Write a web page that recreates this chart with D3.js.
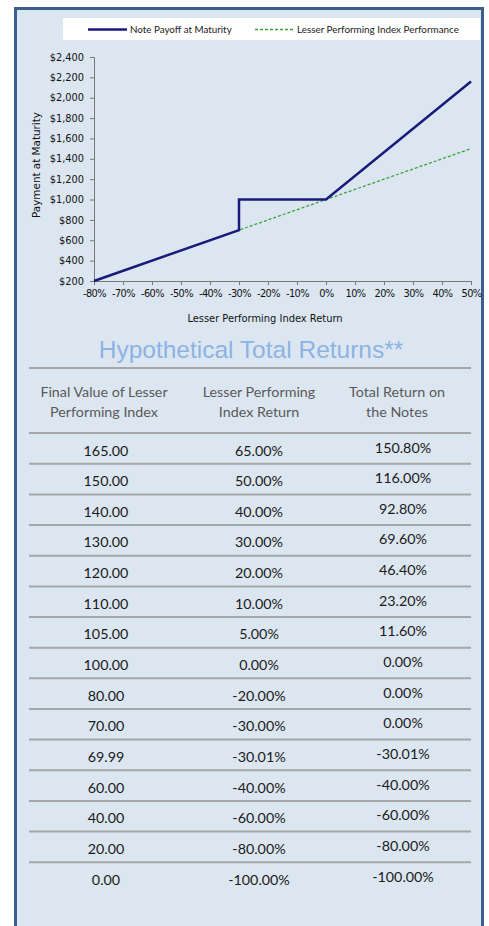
<!DOCTYPE html>
<html><head><meta charset="utf-8">
<script src="https://cdn.jsdelivr.net/npm/d3@7"></script>
<style>
html,body{margin:0;padding:0;background:#fff;}
svg{display:block;}
</style></head>
<body>
<script>
// ---- data ----
const payoffReturns = [-80, -30, -30, 0, 50];
const payoffValues  = [200, 700, 1000, 1000, 2160];
const indexReturns  = [-80, 50];
const indexValues   = [200, 1500];
const xTicks = [-80,-70,-60,-50,-40,-30,-20,-10,0,10,20,30,40,50];
const yTicks = [200,400,600,800,1000,1200,1400,1600,1800,2000,2200,2400];
const seriesNames = ["Note Payoff at Maturity", "Lesser Performing Index Performance"];
const tableTitle = "Hypothetical Total Returns**";
const headers = [["Final Value of Lesser","Performing Index"],["Lesser Performing","Index Return"],["Total Return on","the Notes"]];
const finalValues = ["165.00","150.00","140.00","130.00","120.00","110.00","105.00","100.00","80.00","70.00","69.99","60.00","40.00","20.00","0.00"];
const indexReturnLabels = ["65.00%","50.00%","40.00%","30.00%","20.00%","10.00%","5.00%","0.00%","-20.00%","-30.00%","-30.01%","-40.00%","-60.00%","-80.00%","-100.00%"];
const noteReturnLabels = ["150.80%","116.00%","92.80%","69.60%","46.40%","23.20%","11.60%","0.00%","0.00%","0.00%","-30.01%","-40.00%","-60.00%","-80.00%","-100.00%"];

const W = 489, H = 926;
const svg = d3.select("body").append("svg").attr("width", W).attr("height", H);

// panel
svg.append("rect").attr("x",15.5).attr("y",8.5).attr("width",467).attr("height",H)
  .attr("fill","#dce6f1").attr("stroke","#3a5f8c").attr("stroke-width",3);

// legend box
svg.append("rect").attr("x",63).attr("y",18).attr("width",417).attr("height",22).attr("fill","#fff");
const legFont = "Lato, 'Open Sans', sans-serif";
svg.append("line").attr("x1",88).attr("x2",127).attr("y1",29.5).attr("y2",29.5)
  .attr("stroke","#1a1a7a").attr("stroke-width",2.5);
svg.append("text").attr("x",130).attr("y",32.8).text(seriesNames[0])
  .attr("font-family",legFont).attr("font-size",9.8).attr("fill","#222");
svg.append("line").attr("x1",255).attr("x2",293).attr("y1",29.5).attr("y2",29.5)
  .attr("stroke","#3ea03e").attr("stroke-width",1.3).attr("stroke-dasharray","3,2");
svg.append("text").attr("x",297).attr("y",32.8).text(seriesNames[1])
  .attr("font-family",legFont).attr("font-size",9.9).attr("fill","#222");

// scales
const x = d3.scaleLinear().domain([-80,50]).range([94,471]);
const y = d3.scaleLinear().domain([200,2400]).range([281,57]);

const gy = svg.append("g").attr("transform","translate(94,0)")
  .call(d3.axisLeft(y).tickValues(yTicks).tickSize(4).tickPadding(6).tickFormat(d=>"$"+d3.format(",")(d)));
const gx = svg.append("g").attr("transform","translate(0,281)")
  .call(d3.axisBottom(x).tickValues(xTicks).tickSize(4).tickPadding(5).tickFormat(d=>d+"%"));
[gy,gx].forEach(g=>{
  g.selectAll("path,line").attr("stroke","#777").attr("stroke-width",1);
  g.selectAll("text").attr("font-family","'DejaVu Sans', sans-serif").attr("font-size",9.8).attr("fill","#111");
});
gx.selectAll("text").attr("letter-spacing",-0.6);

svg.append("text").attr("x",265).attr("y",322).attr("text-anchor","middle")
  .text("Lesser Performing Index Return").attr("font-family","'DejaVu Sans', sans-serif").attr("font-size",9.9).attr("fill","#111");
svg.append("text").attr("transform","translate(40,165) rotate(-90)").attr("text-anchor","middle")
  .text("Payment at Maturity").attr("font-family","'DejaVu Sans', sans-serif").attr("font-size",10.4).attr("fill","#111");

const line = d3.line().x(d=>x(d[0])).y(d=>y(d[1]));
svg.append("path").datum(indexReturns.map((r,i)=>[r,indexValues[i]]))
  .attr("d",line).attr("fill","none").attr("stroke","#3ea03e").attr("stroke-width",1.3).attr("stroke-dasharray","3,2");
svg.append("path").datum(payoffReturns.map((r,i)=>[r,payoffValues[i]]))
  .attr("d",line).attr("fill","none").attr("stroke","#1a1a7a").attr("stroke-width",2.5);

// table
svg.append("text").attr("x",251).attr("y",358).attr("text-anchor","middle").text(tableTitle)
  .attr("font-family","'Liberation Sans', Arial, sans-serif").attr("font-size",24.5).attr("fill","#8db3e2");
const tFont = "Lato, 'Open Sans', sans-serif";
const gray = "#a6a6a6";
svg.append("line").attr("x1",29).attr("x2",471).attr("y1",368).attr("y2",368).attr("stroke",gray).attr("stroke-width",2);
const colX = [104, 259, 397];
const valX = [106, 259, 403];
headers.forEach((h,i)=>{
  h.forEach((t,j)=>{
    svg.append("text").attr("x",colX[i]).attr("y",397+j*19.5).attr("text-anchor","middle").text(t)
      .attr("font-family",tFont).attr("font-size",14.3).attr("fill","#595959");
  });
});
svg.append("line").attr("x1",29).attr("x2",471).attr("y1",433).attr("y2",433).attr("stroke",gray).attr("stroke-width",2);
const rowY = d3.scaleLinear().domain([0,finalValues.length-1]).range([455.5,884.5]);
finalValues.forEach((v,i)=>{
  const yy = rowY(i);
  [v, indexReturnLabels[i], noteReturnLabels[i]].forEach((t,c)=>{
    svg.append("text").attr("x",valX[c]).attr("y",yy-(c===2?3:0)).attr("text-anchor","middle").text(t)
      .attr("font-family",tFont).attr("font-size",14.3).attr("fill","#1a1a1a");
  });
  if(i<finalValues.length-1){
    const ly = (rowY(i)+rowY(i+1))/2 - 7;
    svg.append("line").attr("x1",29).attr("x2",471).attr("y1",ly).attr("y2",ly).attr("stroke",gray).attr("stroke-width",2);
  }
});
</script>
</body></html>
